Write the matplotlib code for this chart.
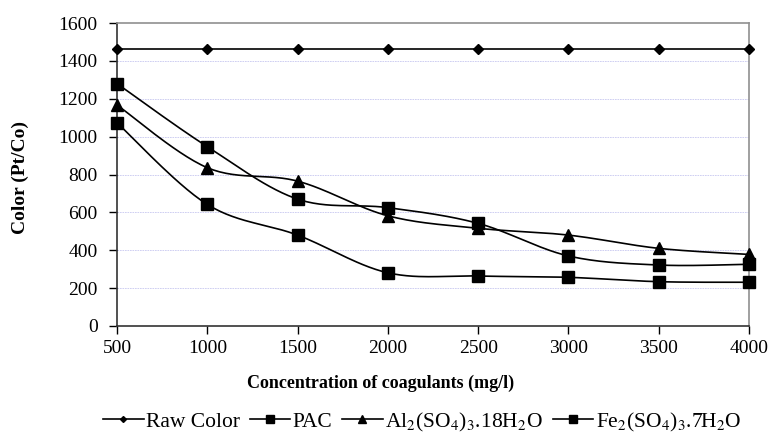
import numpy as np
import matplotlib
matplotlib.use("Agg")
import matplotlib.pyplot as plt

plt.rcParams['font.family'] = ['Liberation Serif', 'DejaVu Serif']
plt.rcParams['mathtext.fontset'] = 'stix'

conc = [500, 1000, 1500, 2000, 2500, 3000, 3500, 4000]
raw_color = [1465, 1465, 1465, 1465, 1465, 1465, 1465, 1465]
pac = [1280, 947, 670, 625, 542, 370, 322, 326]
al_sulfate = [1167, 836, 765, 582, 516, 480, 410, 378]
fe_sulfate = [1073, 642, 480, 281, 264, 257, 234, 231]

labels = ['Raw Color', 'PAC', r'Al$_2$(SO$_4$)$_3$.18H$_2$O', r'Fe$_2$(SO$_4$)$_3$.7H$_2$O']
markers = ['D', 's', '^', 's']
msizes = [5, 8, 8, 8]
yticks = [0, 200, 400, 600, 800, 1000, 1200, 1400, 1600]
xticks = conc


def smooth(x, y, n=30):
    # Excel-like smoothed line (Catmull-Rom style cubic Bezier through points)
    x = np.asarray(x, float); y = np.asarray(y, float)
    xs, ys = [], []
    m = len(x)
    for i in range(m - 1):
        p0 = np.array([x[max(i - 1, 0)], y[max(i - 1, 0)]])
        p1 = np.array([x[i], y[i]])
        p2 = np.array([x[i + 1], y[i + 1]])
        p3 = np.array([x[min(i + 2, m - 1)], y[min(i + 2, m - 1)]])
        c1 = p1 + (p2 - p0) / 6.0
        c2 = p2 - (p3 - p1) / 6.0
        t = np.linspace(0, 1, n)[:, None]
        pts = ((1 - t) ** 3) * p1 + 3 * ((1 - t) ** 2) * t * c1 + 3 * (1 - t) * t ** 2 * c2 + t ** 3 * p2
        xs.extend(pts[:, 0]); ys.extend(pts[:, 1])
    return xs, ys


fig = plt.figure(figsize=(7.72, 4.41), dpi=100)
ax = fig.add_axes([117 / 772, 1 - 326 / 441, (749 - 117) / 772, (326 - 23) / 441])

handles = []
for ys, lab, mk, ms in zip([raw_color, pac, al_sulfate, fe_sulfate], labels, markers, msizes):
    sx, sy = smooth(conc, ys)
    ax.plot(sx, sy, color='black', lw=1.2, zorder=3)
    ax.plot(conc, ys, linestyle='none', marker=mk, color='black', ms=ms, zorder=4, clip_on=False)
    h, = ax.plot([], [], color='black', lw=1.2, marker=mk, ms=ms - 2)
    handles.append(h)

ax.set_xlim(500, 4000)
ax.set_ylim(0, 1600)
ax.set_xticks(xticks)
ax.set_yticks(yticks)
ax.tick_params(axis='both', labelsize=14, direction='out', length=6, width=1, colors='black')
ax.tick_params(axis='y', pad=8)
ax.tick_params(axis='x', pad=4)
for y in yticks[1:-1]:
    ax.axhline(y, color='#c8c8f0', lw=0.6, ls=(0, (2, 1)), zorder=1)
ax.spines['left'].set_color('#333333')
ax.spines['bottom'].set_color('#333333')
ax.spines['top'].set_color('#909090')
ax.spines['right'].set_color('#909090')
for s in ax.spines.values():
    s.set_linewidth(1.2)

fig.text(20 / 772, 1 - 178 / 441, 'Color (Pt/Co)', rotation=90, ha='center', va='center',
         fontsize=14, fontweight='bold')
fig.text(381 / 772, 1 - 383 / 441, 'Concentration of coagulants (mg/l)', ha='center', va='center',
         fontsize=13, fontweight='bold')

fig.legend(handles, labels, loc='center', bbox_to_anchor=(422 / 772, 1 - 422 / 441), ncol=4,
           frameon=False, fontsize=15.5, handlelength=1.9, handletextpad=0.1, columnspacing=0.45)

fig.savefig('out.png', dpi=100)
